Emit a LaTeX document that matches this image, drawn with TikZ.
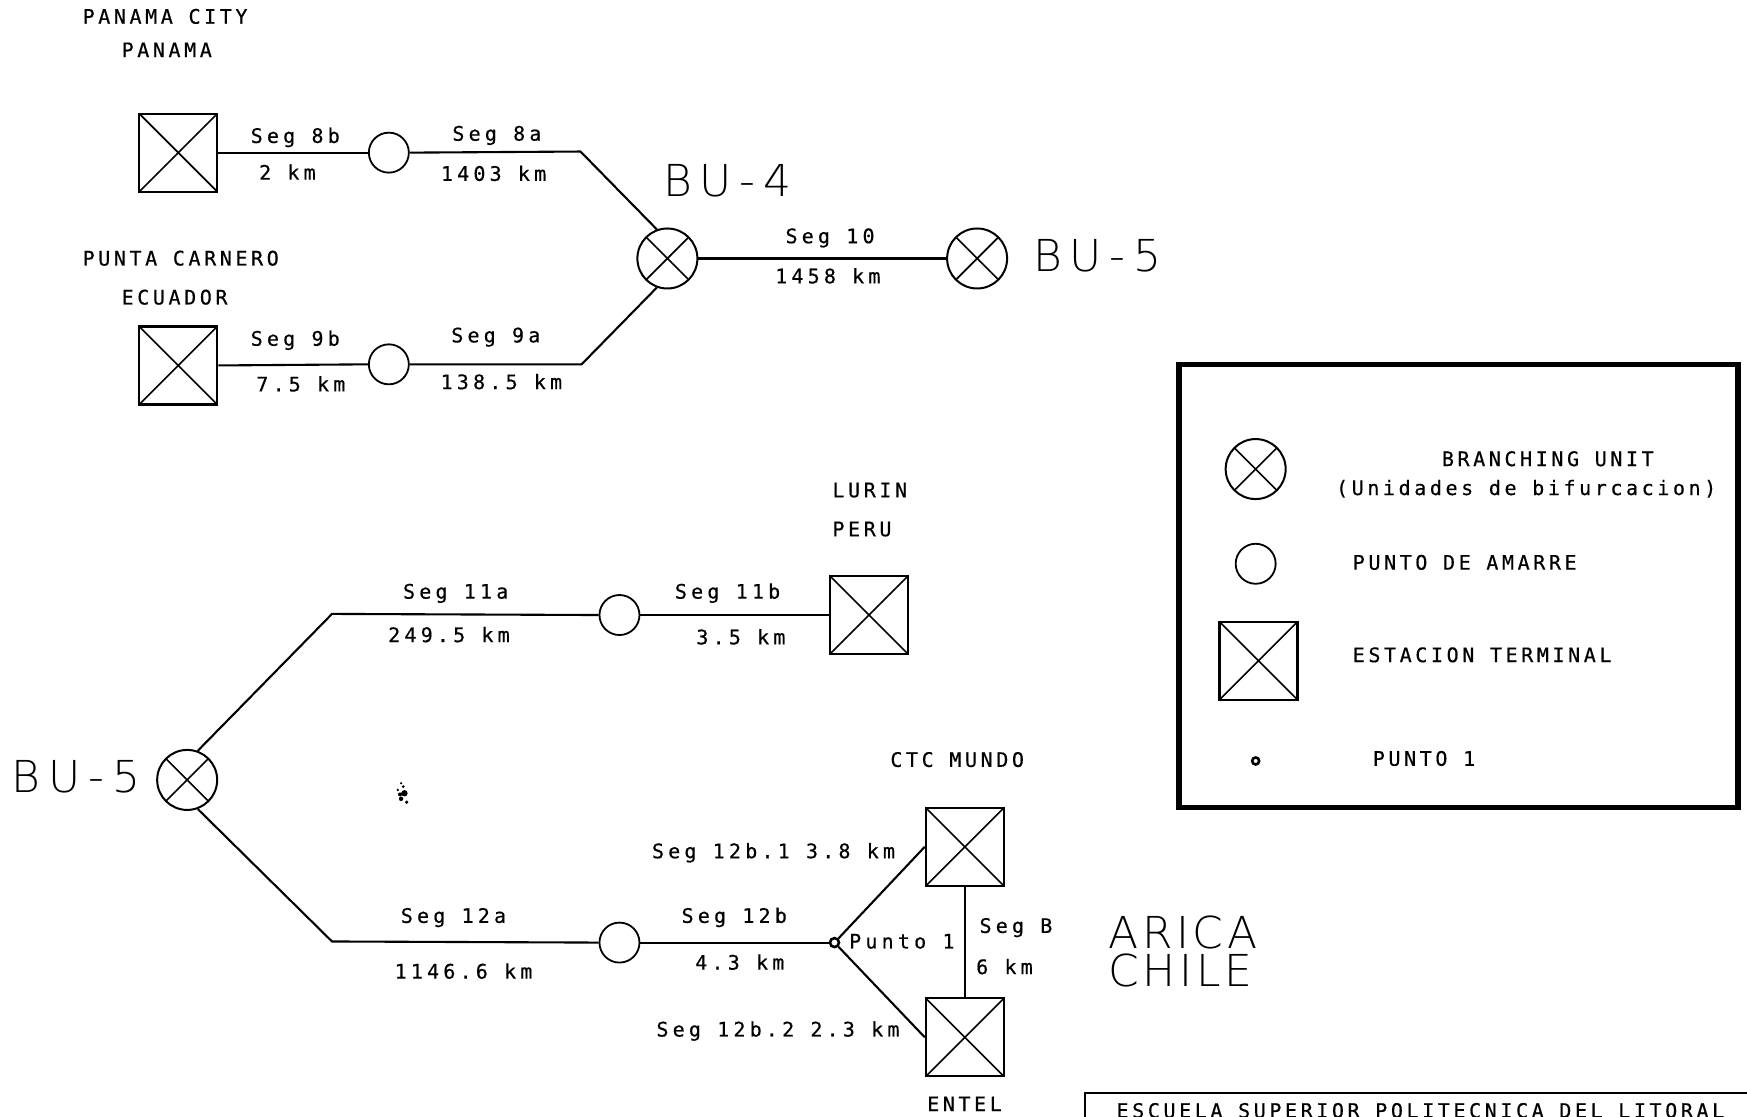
\documentclass[tikz,border=0pt]{standalone}
\usepackage{fontspec}
\newfontfamily\plotfont[LetterSpace=18,FakeBold=0.5]{DejaVu Sans Mono}
\newfontfamily\plotfontw[LetterSpace=21,FakeBold=0.5]{DejaVu Sans Mono}
\newfontfamily\bigfont[UprightFont=* ExtraLight,LetterSpace=18]{DejaVu Sans}
\newfontfamily\bigfontb[UprightFont=* ExtraLight,LetterSpace=8]{DejaVu Sans}
\tikzset{
  wire/.style={line width=2.1pt,line join=miter},
  terminal/.style={draw,line width=2.2pt,rectangle,minimum size=78pt,inner sep=0pt,
    path picture={\draw[line width=1.6pt] (path picture bounding box.north west)--(path picture bounding box.south east)
      (path picture bounding box.north east)--(path picture bounding box.south west);}},
  tie/.style={draw,line width=1.8pt,circle,minimum size=40pt,inner sep=0pt,fill=white},
  branch/.style={draw,line width=2pt,circle,minimum size=60pt,inner sep=0pt,fill=white,
    path picture={\draw[line width=1.6pt] (path picture bounding box.center)++(45:32pt)--++(225:64pt)
      (path picture bounding box.center)++(135:32pt)--++(315:64pt);}},
  spot/.style={draw,line width=2.6pt,circle,minimum size=9pt,inner sep=0pt,fill=white},
  lab/.style={inner sep=0pt,text height=14pt,text depth=0pt,font=\fontsize{20pt}{22pt}\plotfontw},
  ll/.style={inner sep=0pt,text height=14pt,text depth=0pt,font=\fontsize{20pt}{22pt}\plotfont,anchor=west},
  llw/.style={lab,anchor=west},
  big/.style={inner sep=0pt,anchor=west,text height=30pt,text depth=0pt,font=\fontsize{44pt}{48pt}\bigfont},
  bigb/.style={inner sep=0pt,anchor=west,text height=30pt,text depth=0pt,font=\fontsize{44pt}{48pt}\bigfontb},
}
\begin{document}
\begin{tikzpicture}[x=1.1142pt,y=-1.1142pt]
\useasboundingbox (0,0) rectangle (1568,1002.5);
\clip (0,0) rectangle (1568,1002.5);
% --- upper network
\node[terminal] (t8) at (160,137) {};
\node[tie] (c8) at (349,137) {};
\coordinate (k8) at (521,136);
\node[terminal] (t9) at (160,328) {};
\node[tie] (c9) at (349,327) {};
\coordinate (k9) at (522,327);
\node[branch] (bu4) at (599,232) {};
\node[branch] (bu5a) at (877,232) {};
\draw[wire] (t8.east) -- (c8.west);
\draw[wire] (c8.east) -- (k8) -- (bu4.110);
\draw[wire] (t9.east) -- (c9.west);
\draw[wire] (c9.east) -- (k9) -- (bu4.-110);
\draw[wire] (bu4) -- (bu5a);
% --- lower network
\node[branch] (bu5b) at (168,700) {};
\coordinate (k11) at (298,551);
\coordinate (k12) at (298,845);
\node[tie] (c11) at (556,552) {};
\node[tie] (c12) at (556,846) {};
\node[terminal] (lurin) at (780,552) {};
\node[terminal] (ctc) at (866,760) {};
\node[terminal] (entel) at (866,931) {};
\node[spot] (p1) at (749,846) {};
\draw[wire] (bu5b.70) -- (k11) -- (c11.west);
\draw[wire] (c11.east) -- (lurin.west);
\draw[wire] (bu5b.-70) -- (k12) -- (c12.west);
\draw[wire] (c12.east) -- (p1);
\draw[wire] (p1) -- (ctc.west);
\draw[wire] (p1) -- (entel.west);
\draw[wire] (ctc.south) -- (entel.north);
% --- scan speck
\fill (360,703) circle (1.2pt) (363,712) circle (3.2pt) (360,717) circle (2.2pt) (365,720) circle (1.8pt) (357,709) circle (1.3pt) (359,713) circle (2pt) (362,706) circle (1.5pt);
% --- legend
\node[draw,line width=5.5pt,rectangle,minimum width=559pt,minimum height=443pt,inner sep=0pt] (legend) at (1309,526) {};
\node[branch] (lb) at (1127,421) {};
\node[tie] (lc) at (1127,506) {};
\node[terminal] (lt) at (1129.5,593) {};
\node[spot,minimum size=7pt] (ls) at (1127,683) {};
\node[ll] (l1) at (1294,412) {BRANCHING UNIT};
\node[ll] (l2) at (1199,438) {(Unidades de bifurcacion)};
\node[ll] (l3) at (1214,505) {PUNTO DE AMARRE};
\node[ll] (l4) at (1214,588) {ESTACION TERMINAL};
\node[ll] (l5) at (1232,681) {PUNTO 1};
% --- title block
\coordinate (tb1) at (974,1010);
\coordinate (tb2) at (974,981);
\coordinate (tb3) at (1580,981);
\draw[line width=1.8pt] (tb1) -- (tb2) -- (tb3);
\node[ll] (esc) at (1002,997) {ESCUELA SUPERIOR POLITECNICA DEL LITORAL};
% --- labels
\node[ll] (a1) at (74,15) {PANAMA CITY};
\node[ll] (a2) at (109,45) {PANAMA};
\node[ll] (a3) at (74,232) {PUNTA CARNERO};
\node[ll] (a4) at (109,267) {ECUADOR};
\node[lab] (s8b) at (265,122) {Seg 8b};
\node[lab] (d8b) at (258,155) {2 km};
\node[lab] (s8a) at (446,120) {Seg 8a};
\node[lab] (d8a) at (443,156) {1403 km};
\node[big] (n1) at (595,163) {BU-4};
\node[lab] (s10) at (745,212) {Seg 10};
\node[lab] (d10) at (743,248) {1458 km};
\node[big] (n2) at (927,230) {BU-5};
\node[lab] (s9b) at (265,304) {Seg 9b};
\node[lab] (d9b) at (270,345) {7.5 km};
\node[lab] (s9a) at (445,301) {Seg 9a};
\node[lab] (d9a) at (450,343) {138.5 km};
\node[ll] (a5) at (747,440) {LURIN};
\node[ll] (a6) at (747,475) {PERU};
\node[lab] (s11a) at (409,531) {Seg 11a};
\node[lab] (d11a) at (403,570) {249.5 km};
\node[lab] (s11b) at (653,531) {Seg 11b};
\node[lab] (d11b) at (665,572) {3.5 km};
\node[big] (n3) at (10,698) {BU-5};
\node[ll] (a7) at (799,682) {CTC MUNDO};
\node[llw] (s121) at (585,764) {Seg 12b.1 3.8 km};
\node[lab] (s12a) at (407,822) {Seg 12a};
\node[lab] (d12a) at (416,872) {1146.6 km};
\node[lab] (s12b) at (659,822) {Seg 12b};
\node[lab] (d12b) at (664,864) {4.3 km};
\node[llw] (pt) at (762,845) {Punto 1};
\node[llw] (sb) at (879,831) {Seg B};
\node[llw] (db) at (876,868) {6 km};
\node[llw] (s122) at (589,924) {Seg 12b.2 2.3 km};
\node[ll] (a8) at (832,991) {ENTEL};
\node[bigb] (n4) at (995,838) {ARICA};
\node[bigb] (n5) at (995,872) {CHILE};
\end{tikzpicture}
\end{document}
